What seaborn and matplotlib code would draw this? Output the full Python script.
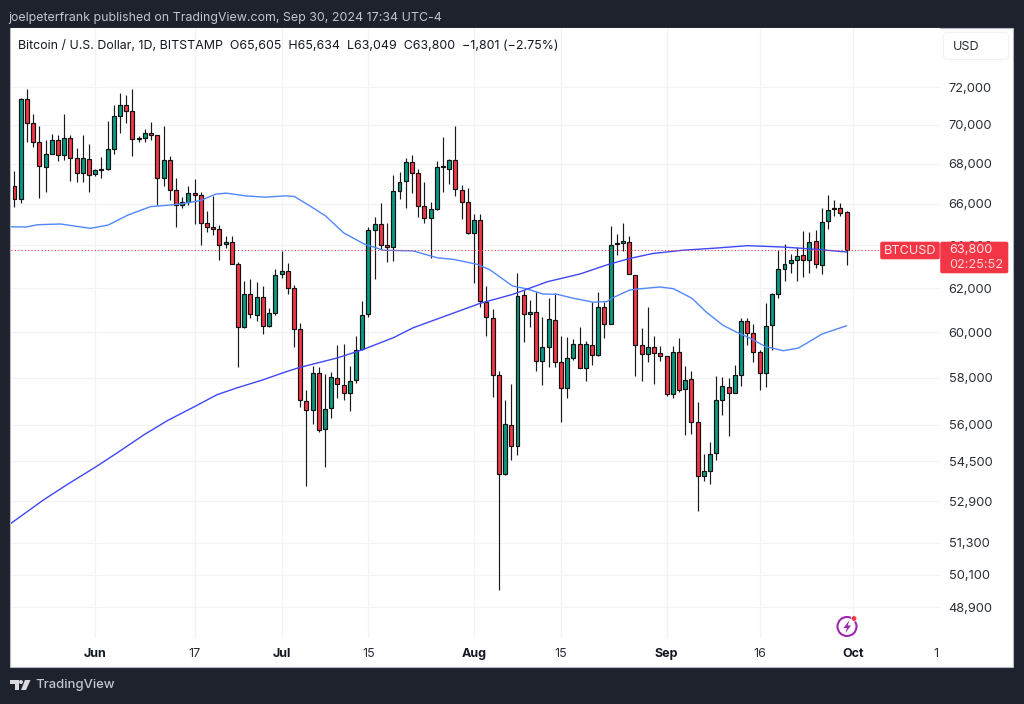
import matplotlib
matplotlib.use("Agg")
import matplotlib.pyplot as plt
from matplotlib.patches import Rectangle, FancyBboxPatch, Circle, Polygon
from matplotlib.ticker import NullLocator
import numpy as np
import pandas as pd
import seaborn as sns

start_date = "2024-05-19"
opens = [66865,66235,71350,70090,69090,67865,68480,69230,68430,69320,68290,67535,68270,67465,67735,67735,68750,70490,71050,70720,
         69300,69300,69590,69450,67285,68170,66700,65950,66115,66550,66435,65085,64890,64780,64065,64180,63100,60225,61740,60770,
         61580,60285,60850,62640,62775,61985,60120,56990,56620,58205,55820,56695,57985,57690,57350,57900,59250,60800,64720,65025,
         64035,63920,66665,67115,68100,67515,65890,65320,65740,67835,67765,68170,66715,66115,64570,65220,61380,60620,58100,54000,
         56015,55125,61680,60800,60890,58710,59335,60560,58665,57545,58860,59460,58435,59440,58990,61120,60350,64100,64110,64160,
         62620,59410,59030,59320,59070,58925,57280,59100,57505,57945,56140,53915,54120,54850,57050,57615,57350,58115,60500,59945,
         59100,58190,60300,61725,62900,63150,63300,63520,63315,64210,63070,65155,65805,65805,65605]
closes = [66235,71350,70090,69090,67900,68480,69230,68450,69330,68290,67535,68290,67435,67665,67715,68750,70490,71050,70720,69265,
          69265,69575,69450,67285,68190,66700,65950,66115,66550,66435,65085,64890,64780,64035,64180,63130,60225,61740,60800,61580,
          60285,60850,62620,62775,61985,60135,57050,56620,58205,55805,56680,58015,57730,57350,57860,59190,60770,64715,65025,64035,
          63905,66650,67100,68085,67535,65900,65300,65740,67850,67900,68170,66735,66115,64570,65220,61395,60665,58115,54000,56030,
          55125,61635,60830,60905,58710,59320,60575,58680,57545,58840,59465,58420,59460,58990,61120,60350,64030,64050,64195,62665,
          59425,59030,59335,59070,58940,57310,59100,57480,57915,56120,53930,54110,54820,57065,57630,57350,58100,60485,59970,59115,
          58205,60275,61715,62885,63130,63290,63475,63290,64180,63100,65105,65710,65760,65545,63800]
highs = [67615,71440,71895,70580,69960,69230,69540,69450,70580,69450,68800,69490,69000,67765,68340,70210,71050,71700,71580,71895,
         69435,69795,70140,69450,69960,68400,67285,66365,66900,67235,66615,65645,66400,64975,64440,64440,63225,62340,62420,62265,
         62105,61075,62885,63755,63150,62140,60395,57490,58490,58450,58160,58245,59420,59480,58520,59825,61395,64865,65350,66065,
         65060,67415,67585,68315,68460,67735,67065,66085,68155,69350,68255,69950,66950,66785,65510,65500,62095,61030,58270,57065,
         57730,62680,61910,61440,61820,60665,61560,61760,59825,59795,59685,60240,59610,61350,61800,61350,64940,64520,65060,64440,
         62620,60170,61150,59840,59400,58925,59400,59750,58490,58290,56965,54805,55280,58060,58030,57985,58550,60635,60620,60365,
         59215,61300,61760,63800,64045,63570,63940,64680,64620,64730,65790,66465,66200,66035,65634]
lows = [65865,66035,69140,68850,66300,66585,68480,68120,68170,67150,67065,67065,66585,67365,67265,67665,68510,69570,70090,68400,
        69125,69090,69195,65950,66900,66200,64890,65790,65950,65025,64000,64620,64500,63300,63875,63100,58445,60195,60650,60510,
        59900,60240,60770,62480,61715,59335,56755,53500,56030,55720,54270,56285,57150,57065,56570,57775,59215,60665,62430,63845,
        63195,63270,66235,65790,66565,65380,65075,63410,65710,66600,67000,66400,65250,64535,62220,61150,59825,57180,49540,53960,
        54540,54740,59550,60240,58300,57670,58445,58465,56140,57110,58785,58400,57840,58560,58960,59750,60350,63535,63735,62665,
        58085,57860,58680,57730,58730,57205,57140,57405,55580,55635,52520,53710,53600,54570,56395,55540,57350,57630,59435,58695,
        57490,57610,59190,61560,62325,62715,62340,62530,62685,62915,62640,64795,65415,65430,63049]

ma_fast_days = [-0.6,1.9,3.7,7.4,12.2,15.1,18.2,21.9,26.4,29.9,32.4,34.1,37.2,40.4,43.6,45.1,47.6,50.1,53,56.2,59.4,64.2,68.1,70.7,74.5,
                76.6,80.2,82.6,85.1,87.4,90,91.1,93.2,95.4,96.4,99.1,100.4,103.9,106.1,109.1,111.5,114.1,116.5,118.5,120.9,123.8,126.2,127.6,130,134]
ma_fast = [64890,64880,64990,65025,64815,64975,65450,65870,65985,66165,66485,66535,66400,66335,66400,66365,65900,65415,64600,64080,63770,63735,63410,63335,63105,
           62840,62095,61955,61725,61710,61530,61470,61350,61380,61560,61910,61955,62050,61970,61530,60875,60305,59970,59725,59360,59175,59290,59510,59910,60285]
ma_slow_days = [-0.6,4.7,8.5,13.2,16.5,20.8,24.6,29.1,32.6,35.8,40.1,43.1,45.8,52,56,61,64.2,69.7,75,80.3,85.8,91.1,95.6,99.1,102.8,107.7,113.2,118,123.8,129.2,134]
ma_slow = [52040,52965,53570,54295,54840,55580,56175,56780,57270,57560,57915,58200,58435,58860,59215,59750,60195,60755,61300,61715,62290,62655,63095,63380,63615,63770,63875,63985,63920,63810,63685]

price_ticks = [72000,70000,68000,66000,64000,62000,60000,58000,56000,54500,52900,51300,50100,48900]
date_ticks = ["2024-06-01","2024-06-17","2024-07-01","2024-07-15","2024-08-01","2024-08-15","2024-09-01","2024-09-16","2024-10-01"]
date_labels = ["Jun","17","Jul","15","Aug","15","Sep","16","Oct"]
bold_labels = ["Jun","Jul","Aug","Sep","Oct"]
header = "joelpeterfrank published on TradingView.com, Sep 30, 2024 17:34 UTC-4"
title = "Bitcoin / U.S. Dollar, 1D, BITSTAMP  O65,605  H65,634  L63,049  C63,800  \u22121,801 (\u22122.75%)"
last_price = 63800

BG, UP, DOWN = "#1e222d", "#089981", "#f23645"
sns.set_theme(style="white")
plt.rcParams["font.family"] = ["Inter", "DejaVu Sans"]

W, H = 1024, 704
fig = plt.figure(figsize=(W/100, H/100), dpi=100, facecolor=BG)
fig.add_artist(Rectangle((10/W, 1-667/H), 1003/W, 639/H, transform=fig.transFigure,
                         facecolor="white", edgecolor="#b4b7bf", linewidth=0.8, zorder=-5))
ax = fig.add_axes([10.5/W, 1-638/H, 929.5/W, 610/H], facecolor="white")

df = pd.DataFrame({"o": opens, "h": highs, "l": lows, "c": closes})
df["day"] = np.arange(len(df))
df["up"] = df.c >= df.o
ax.vlines(df.day, df.l, df.h, color="#1a1a1a", linewidth=0.85, zorder=2)
ax.bar(df.day, (df.c-df.o).abs(), bottom=df[["o","c"]].min(axis=1), width=0.64,
       color=np.where(df.up, UP, DOWN), edgecolor="#111111", linewidth=0.85, zorder=3)

sns.lineplot(data=pd.DataFrame({"d": ma_fast_days, "v": ma_fast}), x="d", y="v", ax=ax,
             color="#5287fb", linewidth=1.0, zorder=4, estimator=None, sort=False)
sns.lineplot(data=pd.DataFrame({"d": ma_slow_days, "v": ma_slow}), x="d", y="v", ax=ax,
             color="#3f47f6", linewidth=1.0, zorder=4, estimator=None, sort=False)
ax.axhline(last_price, color=DOWN, linewidth=0.8, linestyle=(0, (1, 2)), zorder=5)

ax.set_yscale("log")
ax.set_xlim(-0.644, 149.04)
ax.set_ylim(47790, 75231)
ax.yaxis.set_minor_locator(NullLocator())
ax.set_yticks(price_ticks, [f"{p:,}" for p in price_ticks])
ax.yaxis.tick_right()
t0 = pd.Timestamp(start_date)
xt = [(pd.Timestamp(d)-t0).days for d in date_ticks]
ax.set_xticks(xt + [148.4], date_labels + ["1"])
ax.set_xlabel(""); ax.set_ylabel("")
ax.grid(True, color="#f2f3f5", linewidth=0.9, zorder=0)
ax.set_axisbelow(True)
ax.get_xgridlines()[-1].set_visible(False)
ax.tick_params(axis="y", length=0, pad=6.2, labelsize=9.25, labelcolor="#2a2e39")
ax.tick_params(axis="x", length=0, pad=7.5, labelsize=9.0, labelcolor="#2a2e39")
for lab in ax.get_xticklabels():
    if lab.get_text() in bold_labels:
        lab.set_fontweight("bold"); lab.set_color("#131722")
sns.despine(ax=ax, left=True, bottom=True, right=True, top=True)

ov = fig.add_axes([0, 0, 1, 1], facecolor="none")
ov.set_xlim(0, W); ov.set_ylim(H, 0); ov.axis("off")
ov.text(8, 18, header, color="#c2c5cc", fontsize=8.93, va="center", ha="left")
ov.text(18, 46, title, color="#131722", fontsize=8.93, va="center", ha="left")

ov.add_patch(FancyBboxPatch((946, 35), 60, 22, boxstyle="round,pad=2.5,rounding_size=4",
                            fc="white", ec="#f0f1f3", lw=0.8))
ov.text(953, 46.5, "USD", color="#2a2e39", fontsize=9.1, va="center", ha="left")

ov.add_patch(FancyBboxPatch((881, 242.5), 58, 16, boxstyle="round,pad=0.8,rounding_size=2", fc=DOWN, ec="none"))
ov.add_patch(FancyBboxPatch((941, 242.5), 66.5, 30, boxstyle="round,pad=0.8,rounding_size=2", fc=DOWN, ec="none"))
ov.text(884, 251, "BTCUSD", color="#ffe3e6", fontsize=9.1, va="center", ha="left")
ov.text(949, 250, "63,800", color="#ffe3e6", fontsize=9.2, va="center", ha="left")
ov.text(949, 264.5, "02:25:52", color="#ffd0d5", fontsize=9.2, va="center", ha="left")

ov.add_patch(Circle((847, 626.5), 9.5, fc="white", ec="#9c27b0", lw=1.5))
ov.add_patch(Polygon([(849.5, 620), (843.5, 628), (847, 628), (845.5, 633), (851, 625.5), (847.7, 625.5)],
                     closed=True, fc="#9c27b0", ec="none"))
ov.add_patch(Circle((854, 618.5), 2.8, fc=DOWN, ec="white", lw=0.5))

ov.text(35, 685, "TradingView", color="#c2c5cc", fontsize=9.4, fontweight="medium", va="center", ha="left")
ov.add_patch(Polygon([(10, 680), (18.5, 680), (18.5, 690), (14.5, 690), (14.5, 684), (10, 684)], closed=True, fc="#d8dae0", ec="none"))
ov.add_patch(Circle((21, 682), 2, fc="#d8dae0", ec="none"))
ov.add_patch(Polygon([(25, 680), (30.5, 680), (26, 690), (21, 690)], closed=True, fc="#d8dae0", ec="none"))

fig.savefig("out.png", dpi=100, facecolor=BG)
